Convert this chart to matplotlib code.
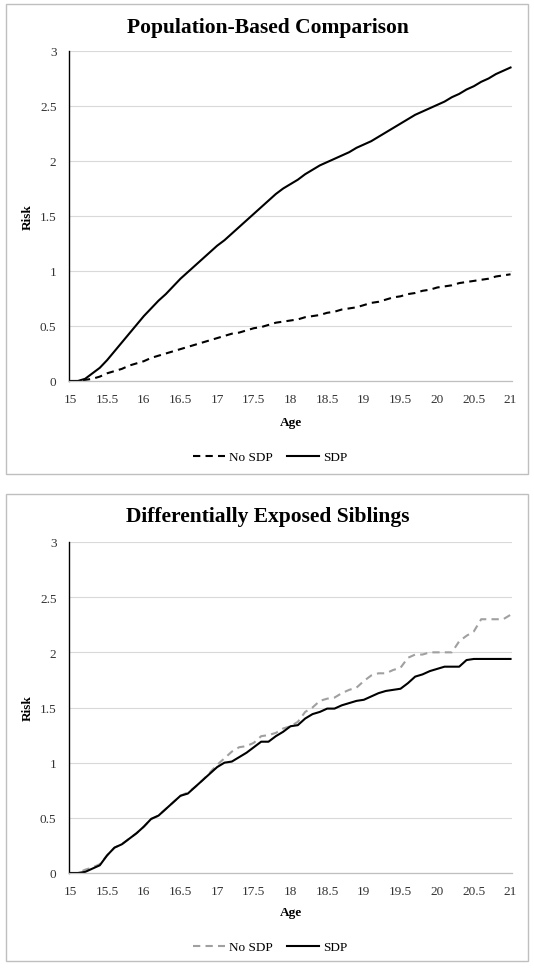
import numpy as np
import matplotlib
matplotlib.use("Agg")
import matplotlib.pyplot as plt
from matplotlib.patches import Rectangle

plt.rcParams['font.family'] = ['Liberation Serif', 'DejaVu Serif']

ages = [round(15 + 0.1 * i, 1) for i in range(61)]

# Population-Based Comparison
pop_no_sdp = [0.00, 0.00, 0.01, 0.02, 0.04, 0.07, 0.09, 0.11, 0.14, 0.16,
              0.18, 0.21, 0.23, 0.25, 0.27, 0.29, 0.31, 0.33, 0.35, 0.37,
              0.39, 0.41, 0.43, 0.44, 0.46, 0.48, 0.49, 0.51, 0.53, 0.54,
              0.55, 0.56, 0.58, 0.59, 0.60, 0.62, 0.63, 0.65, 0.66, 0.67,
              0.69, 0.71, 0.72, 0.74, 0.76, 0.77, 0.79, 0.80, 0.82, 0.83,
              0.85, 0.86, 0.87, 0.89, 0.90, 0.91, 0.92, 0.93, 0.95, 0.96,
              0.97]
pop_sdp = [0.00, 0.00, 0.02, 0.07, 0.12, 0.19, 0.27, 0.35, 0.43, 0.51,
           0.59, 0.66, 0.73, 0.79, 0.86, 0.93, 0.99, 1.05, 1.11, 1.17,
           1.23, 1.28, 1.34, 1.40, 1.46, 1.52, 1.58, 1.64, 1.70, 1.75,
           1.79, 1.83, 1.88, 1.92, 1.96, 1.99, 2.02, 2.05, 2.08, 2.12,
           2.15, 2.18, 2.22, 2.26, 2.30, 2.34, 2.38, 2.42, 2.45, 2.48,
           2.51, 2.54, 2.58, 2.61, 2.65, 2.68, 2.72, 2.75, 2.79, 2.82,
           2.85]

# Differentially Exposed Siblings
sib_no_sdp = [0.00, 0.00, 0.03, 0.05, 0.08, 0.16, 0.23, 0.26, 0.31, 0.36,
              0.42, 0.49, 0.52, 0.58, 0.64, 0.70, 0.73, 0.78, 0.84, 0.91,
              0.98, 1.04, 1.10, 1.14, 1.15, 1.18, 1.24, 1.25, 1.27, 1.31,
              1.33, 1.37, 1.46, 1.50, 1.56, 1.58, 1.59, 1.63, 1.66, 1.68,
              1.74, 1.79, 1.81, 1.81, 1.84, 1.86, 1.95, 1.98, 1.98, 2.00,
              2.00, 2.00, 2.00, 2.10, 2.15, 2.19, 2.30, 2.30, 2.30, 2.30,
              2.34]
sib_sdp = [0.00, 0.00, 0.01, 0.04, 0.07, 0.16, 0.23, 0.26, 0.31, 0.36,
           0.42, 0.49, 0.52, 0.58, 0.64, 0.70, 0.72, 0.78, 0.84, 0.90,
           0.96, 1.00, 1.01, 1.05, 1.09, 1.14, 1.19, 1.19, 1.24, 1.28,
           1.33, 1.34, 1.40, 1.44, 1.46, 1.49, 1.49, 1.52, 1.54, 1.56,
           1.57, 1.60, 1.63, 1.65, 1.66, 1.67, 1.72, 1.78, 1.80, 1.83,
           1.85, 1.87, 1.87, 1.87, 1.93, 1.94, 1.94, 1.94, 1.94, 1.94,
           1.94]

xticks = [15, 15.5, 16, 16.5, 17, 17.5, 18, 18.5, 19, 19.5, 20, 20.5, 21]
xticklabels = ['15', '15.5', '16', '16.5', '17', '17.5', '18', '18.5', '19',
               '19.5', '20', '20.5', '21']
yticks = [0, 0.5, 1, 1.5, 2, 2.5, 3]
yticklabels = ['0', '0.5', '1', '1.5', '2', '2.5', '3']

W, H = 534, 970
fig = plt.figure(figsize=(W / 100, H / 100), dpi=100)

def px_rect(x0, y0, x1, y1):
    return [x0 / W, 1 - y1 / H, (x1 - x0) / W, (y1 - y0) / H]

panels = [
    dict(title='Population-Based Comparison', box=(6, 5, 528, 475),
         ax=(69, 52, 512, 382), title_y=28, age_y=423, leg_y=458,
         no=pop_no_sdp, sdp=pop_sdp, no_color='black'),
    dict(title='Differentially Exposed Siblings', box=(6, 495, 528, 962),
         ax=(69, 543, 512, 874), title_y=517, age_y=913, leg_y=948,
         no=sib_no_sdp, sdp=sib_sdp, no_color='#a0a0a0'),
]

for p in panels:
    bx0, by0, bx1, by1 = p['box']
    fig.patches.append(Rectangle((bx0 / W, 1 - by1 / H), (bx1 - bx0) / W,
                                 (by1 - by0) / H, transform=fig.transFigure,
                                 fill=False, edgecolor='#bfbfbf', linewidth=1.0))
    ax = fig.add_axes(px_rect(*p['ax']))
    ax.set_xlim(14.98, 21.02)
    ax.set_ylim(0, 3)
    ax.set_xticks(xticks)
    ax.set_xticklabels(xticklabels)
    ax.set_yticks(yticks)
    ax.set_yticklabels(yticklabels)
    ax.tick_params(length=0, labelsize=9.5, labelcolor='#333333')
    ax.tick_params(axis='x', pad=9)
    ax.tick_params(axis='y', pad=9)
    ax.grid(axis='y', color='#d9d9d9', linewidth=0.8)
    ax.set_axisbelow(True)
    for s in ['top', 'right']:
        ax.spines[s].set_visible(False)
    ax.spines['bottom'].set_color('#bfbfbf')
    ax.spines['bottom'].set_linewidth(0.9)
    ax.spines['left'].set_color('black')
    ax.spines['left'].set_linewidth(1.0)

    l1, = ax.plot(ages, p['no'], color=p['no_color'], linewidth=1.5,
                  linestyle=(0, (3.5, 2.5)), label='No SDP')
    l2, = ax.plot(ages, p['sdp'], color='black', linewidth=1.5, label='SDP')

    fig.text(268 / W, 1 - p['title_y'] / H, p['title'], ha='center', va='center',
             fontsize=15.5, fontweight='bold')
    fig.text(28 / W, 1 - ((p['ax'][1] + p['ax'][3]) / 2) / H, 'Risk',
             rotation=90, ha='center', va='center', fontsize=9.5, fontweight='bold')
    fig.text(291 / W, 1 - p['age_y'] / H, 'Age', ha='center', va='center',
             fontsize=9.5, fontweight='bold')
    fig.legend(handles=[l1, l2], loc='center', ncol=2, frameon=False,
               bbox_to_anchor=(270 / W, 1 - p['leg_y'] / H),
               fontsize=9.5, handlelength=2.4, handletextpad=0.3,
               columnspacing=1.1)

fig.savefig('out.png', dpi=100)
